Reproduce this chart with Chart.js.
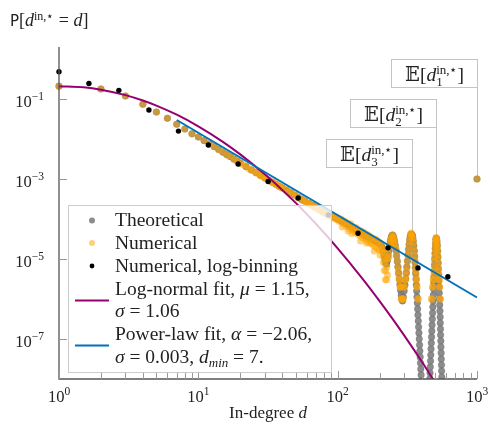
<!DOCTYPE html>
<html>
<head>
<meta charset="utf-8">
<script src="https://cdn.jsdelivr.net/npm/chart.js@4.4.1/dist/chart.umd.min.js"></script>
<style>
  html, body { margin: 0; padding: 0; background: #fff; }
</style>
</head>
<body>
<canvas id="chart" width="490" height="426"></canvas>
<script>
// [in-degree d, log10 P]
const theoretical = [
  [1,-0.678],[2,-0.75],[3,-0.925],[4,-1.13],[5,-1.325],[6,-1.48],[7,-1.63],[8,-1.75],[9,-1.87],[10,-1.95],
  [11,-2.04],[12,-2.12],[13,-2.19],[14,-2.26],[15,-2.33],[16,-2.39],[17,-2.44],[18,-2.50],[19,-2.55],[20,-2.60],
  [22,-2.69],[24,-2.77],[26,-2.84],[28,-2.91],[30,-2.97],[32,-3.03],[34,-3.08],[36,-3.13],[38,-3.18],[40,-3.22],
  [43,-3.28],[46,-3.34],[49,-3.40],[52,-3.46],[55,-3.51],[58,-3.55],[62,-3.61],[66,-3.66],[70,-3.71],[74,-3.76],
  [78,-3.81],[83,-3.86],[88,-3.91],[94,-3.96],[100,-4.00],[105,-4.04],[110,-4.08],[115,-4.12],[120,-4.16],[125,-4.20],
  [130,-4.24],[135,-4.27],[140,-4.31],[145,-4.34],[150,-4.37],[155,-4.40],[160,-4.43],[165,-4.46],[170,-4.48],[175,-4.51],
  [180,-4.53],[185,-4.55],[190,-4.57],[195,-4.59],[200,-4.61],[204,-4.64],[208,-4.70],[212,-4.80],[215,-4.90],[218,-5.00],
  [221,-5.10],[224,-5.13],[227,-5.05],[230,-4.92],[233,-4.80],[236,-4.66],[239,-4.55],[242,-4.47],[245,-4.42],[247,-4.40],
  [250,-4.42],[253,-4.48],[256,-4.56],[259,-4.66],[262,-4.78],[265,-4.92],[268,-5.06],[271,-5.20],[274,-5.35],[277,-5.50],
  [280,-5.64],[283,-5.78],[286,-5.90],[289,-6.00],[292,-6.05],[296,-5.95],[300,-5.80],[304,-5.65],[308,-5.50],[311,-5.35],
  [314,-5.20],[317,-5.05],[320,-4.90],[323,-4.76],[326,-4.63],[329,-4.52],[332,-4.44],[335,-4.39],[338,-4.38],[341,-4.39],
  [343,-4.41],[346,-4.46],[349,-4.55],[352,-4.67],[355,-4.80],[357,-4.94],[359,-5.08],[361,-5.22],[363,-5.36],[365,-5.50],
  [367,-5.65],[369,-5.80],[371,-5.95],[373,-6.10],[375,-6.25],[377,-6.40],[379,-6.55],[381,-6.70],[383,-6.85],[385,-7.00],
  [387,-7.15],[389,-7.30],[391,-7.45],[393,-7.60],[395,-7.75],[397,-7.90],[399,-8.05],[401,-8.20],
  [456,-8.15],[458,-8.00],[460,-7.85],[462,-7.70],[464,-7.55],[466,-7.40],[468,-7.25],[470,-7.10],[472,-6.95],[474,-6.80],
  [476,-6.65],[478,-6.50],[480,-6.35],[482,-6.20],[484,-6.05],[486,-5.90],[488,-5.75],[490,-5.60],[492,-5.45],[494,-5.30],
  [496,-5.15],[498,-5.00],[500,-4.86],[502,-4.73],[504,-4.62],[507,-4.52],[510,-4.48],[513,-4.50],[516,-4.56],[519,-4.66],
  [522,-4.80],[524,-4.95],[526,-5.10],[528,-5.25],[530,-5.40],[532,-5.55],[534,-5.70],[536,-5.85],[538,-6.00],[540,-6.15],
  [542,-6.30],[544,-6.45],[545,-6.60],[547,-6.75],[548,-6.90],[550,-7.05],[551,-7.20],[553,-7.35],[554,-7.50],[556,-7.65],
  [557,-7.80],[559,-7.95],[560,-8.10],
  [1000,-3.00]
];

const numerical = [
  [1,-0.678],[2,-0.75],[3,-0.925],[4,-1.13],[5,-1.325],[6,-1.48],[7,-1.63],[8,-1.75],[9,-1.87],[10,-1.95],
  [11,-2.03],[12,-2.13],[13,-2.18],[14,-2.27],[15,-2.32],[16,-2.40],[17,-2.43],[18,-2.51],[19,-2.54],[20,-2.61],
  [21,-2.64],[22,-2.68],[23,-2.74],[24,-2.78],[25,-2.80],[26,-2.85],[27,-2.87],[28,-2.92],[29,-2.93],[30,-2.98],
  [31,-3.00],[32,-3.04],[33,-3.05],[34,-3.09],[35,-3.10],[36,-3.14],[37,-3.15],[38,-3.19],[39,-3.20],[40,-3.23],
  [42,-3.25],[44,-3.31],[46,-3.33],[48,-3.39],[50,-3.41],[52,-3.47],[54,-3.48],[56,-3.54],[58,-3.54],[60,-3.60],
  [62,-3.60],[64,-3.66],[66,-3.65],[68,-3.71],[70,-3.70],[72,-3.77],[74,-3.75],[76,-3.81],[78,-3.79],[80,-3.86],
  [83,-3.84],[86,-3.92],[89,-3.89],[92,-3.97],[95,-3.93],[98,-4.02],[100,-3.97],[103,-4.06],[106,-4.00],[108,-4.20],
  [109,-4.12],[112,-4.05],[115,-4.18],[118,-4.10],[119,-4.30],[121,-4.24],[124,-4.12],[126,-4.36],[127,-4.28],[130,-4.20],
  [133,-4.33],[136,-4.22],[139,-4.38],[142,-4.28],[145,-4.42],[146,-4.55],[148,-4.30],[151,-4.47],[154,-4.33],[157,-4.50],
  [160,-4.38],[161,-4.60],[163,-4.55],[166,-4.40],[169,-4.60],[172,-4.45],[175,-4.62],[178,-4.48],[181,-4.66],[183,-4.80],
  [184,-4.50],[187,-4.70],[190,-4.52],[193,-4.74],[196,-4.56],[199,-4.78],[201,-4.90],[202,-4.60],[205,-4.65],[208,-4.80],
  [211,-4.75],[213,-5.08],[214,-4.95],[216,-5.28],[217,-4.85],[219,-5.10],[220,-5.52],[221,-5.30],[223,-5.00],[225,-5.52],
  [226,-5.20],[228,-5.40],[229,-5.00],[231,-4.85],[233,-4.95],[235,-4.70],[237,-4.60],[239,-4.65],[241,-4.50],[243,-4.52],
  [245,-4.42],[247,-4.47],[249,-4.40],[251,-4.46],[253,-4.52],[255,-4.55],[257,-4.62],[259,-4.68],[262,-4.75],[265,-4.90],
  [268,-5.05],[270,-5.20],[272,-5.30],[274,-5.40],[276,-5.52],[278,-5.52],[280,-5.70],[282,-5.70],[284,-5.70],[286,-6.00],
  [288,-6.00],[290,-6.00],[293,-6.00],[296,-6.00],[299,-5.70],[302,-5.70],[305,-5.52],[307,-5.52],[309,-5.40],[311,-5.30],
  [313,-5.20],[316,-5.05],[319,-4.90],[322,-4.78],[325,-4.65],[328,-4.55],[331,-4.45],[334,-4.38],[337,-4.35],[340,-4.38],
  [343,-4.42],[346,-4.48],[349,-4.56],[352,-4.68],[355,-4.80],[357,-4.92],[359,-5.05],[361,-5.20],[363,-5.30],[365,-5.40],
  [366,-5.52],[368,-5.52],[370,-5.70],[372,-5.70],[376,-6.00],[380,-6.00],
  [470,-6.00],[474,-6.00],[478,-5.70],[481,-5.70],[484,-5.52],[487,-5.52],[489,-5.40],[491,-5.30],[493,-5.20],[495,-5.05],
  [497,-4.95],[499,-4.85],[501,-4.75],[503,-4.65],[505,-4.55],[507,-4.50],[509,-4.46],[511,-4.48],[513,-4.52],[515,-4.58],
  [517,-4.65],[519,-4.72],[521,-4.80],[523,-4.90],[525,-5.00],[527,-5.10],[529,-5.20],[531,-5.30],[532,-5.40],[534,-5.52],
  [536,-5.52],[538,-5.70],[540,-5.70],[544,-6.00],[548,-6.00],
  [1000,-3.00]
];

// [d, P]
const logBinning = [
  [1,0.48],[1.64,0.245],[2.69,0.165],[4.42,0.053],[7.2,0.0158],[11.8,0.0071],[19.3,0.00237],
  [31.7,8.7e-4],[52.1,3.35e-4],[85.7,1.26e-4],[140,4.4e-5],[230,1.9e-5],[377,6.0e-6],[618,3.6e-6]
];
const logNormalFit = [
  [1,0.209],[1.5,0.196],[2,0.1715],[3,0.1253],[4,0.0918],[5,0.0685],[7,0.0406],[10,0.02085],[15,0.00852],
  [20,0.00413],[30,0.001315],[40,5.34e-4],[50,2.53e-4],[70,7.5e-5],[100,1.855e-5],[150,3.3e-6],[200,8.88e-7],
  [250,3.05e-7],[300,1.23e-7],[400,2.78e-8],[500,8.3e-9]
];
const powerLawFit = [[7,0.0299],[1000,1.09e-6]];

const xTicks = [1, 10, 100, 1000];
const xTickExp = ['0', '1', '2', '3'];
const xMinorTicks = [2,3,4,5,6,7,8,9,20,30,40,50,60,70,80,90,200,300,400,500,600,700,800,900];
const yTicks = [1e-1, 1e-3, 1e-5, 1e-7];
const yTickExp = ['\u22121', '\u22123', '\u22125', '\u22127'];

// expected in-degree of the three hubs and the value the marker line points to
const hubIndex = ['1', '2', '3'];
const hubDeg = [1000, 507, 341];
const hubProb = [1e-3, 3.3e-5, 4.2e-5];
const hubBoxTop = [59, 99, 139];

const SERIF = '"Liberation Serif", "DejaVu Serif", serif';
const rm = s => s + 'px ' + SERIF;
const it = s => 'italic ' + s + 'px ' + SERIF;
const ROMAN = 19.5, SMALL = 13;

const PURPLE = 'rgb(150,0,110)';
const BLUE = 'rgb(0,114,189)';
const GRAY = 'rgba(128,128,128,0.9)';
const ORANGE = 'rgba(255,165,0,0.52)';

const toXY = (pts, isLog) => pts.map(p => ({ x: p[0], y: isLog ? Math.pow(10, p[1]) : p[1] }));

function drawRuns(ctx, parts, x, y, align) {
  let total = 0;
  parts.forEach(p => {
    ctx.font = p.f;
    p.w = ctx.measureText(p.t).width;
    if (!p.stack) total += p.w;
  });
  let cx = x;
  if (align === 'center') cx = x - total / 2;
  if (align === 'right') cx = x - total;
  ctx.textAlign = 'left';
  ctx.textBaseline = 'alphabetic';
  parts.forEach(p => {
    ctx.font = p.f;
    ctx.fillText(p.t, cx, y + (p.dy || 0));
    if (!p.stack) cx += p.w;
  });
}

const legendRows = [
  { marker: 'dot', color: GRAY, r: 3, parts: [{ t: 'Theoretical', f: rm(ROMAN) }], y: 226 },
  { marker: 'dot', color: ORANGE, r: 3, parts: [{ t: 'Numerical', f: rm(ROMAN) }], y: 248.5 },
  { marker: 'dot', color: '#000', r: 2.4, parts: [{ t: 'Numerical, log-binning', f: rm(ROMAN) }], y: 271.5 },
  { parts: [{ t: 'Log-normal fit, ', f: rm(ROMAN) }, { t: '\u03bc', f: it(ROMAN) }, { t: ' = 1.15,', f: rm(ROMAN) }], y: 294.5 },
  { parts: [{ t: '\u03c3', f: it(ROMAN) }, { t: ' = 1.06', f: rm(ROMAN) }], y: 317 },
  { parts: [{ t: 'Power-law fit, ', f: rm(ROMAN) }, { t: '\u03b1', f: it(ROMAN) }, { t: ' = \u22122.06,', f: rm(ROMAN) }], y: 340 },
  { parts: [{ t: '\u03c3', f: it(ROMAN) }, { t: ' = 0.003, ', f: rm(ROMAN) }, { t: 'd', f: it(ROMAN) },
            { t: 'min', f: it(SMALL), dy: 4 }, { t: ' = 7.', f: rm(ROMAN) }], y: 362.5 }
];
const legendLines = [{ color: PURPLE, y: 300.5 }, { color: BLUE, y: 345.5 }];

const deco = {
  id: 'deco',
  beforeDatasetsDraw(chart) {
    const { ctx, scales: { x, y } } = chart;
    ctx.save();
    ctx.strokeStyle = '#c4c4c4';
    ctx.lineWidth = 1;
    hubDeg.forEach((d, i) => {
      const px = Math.round(x.getPixelForValue(d)) + 0.5;
      ctx.beginPath();
      ctx.moveTo(px, hubBoxTop[i] + 28);
      ctx.lineTo(px, y.getPixelForValue(hubProb[i]));
      ctx.stroke();
    });
    ctx.restore();
  },
  afterDatasetsDraw(chart) {
    const { ctx, chartArea: a, scales: { x, y } } = chart;
    ctx.save();

    // axes
    ctx.strokeStyle = '#555';
    ctx.lineWidth = 1.3;
    ctx.beginPath();
    ctx.moveTo(a.left, a.top);
    ctx.lineTo(a.left, a.bottom);
    ctx.lineTo(a.right, a.bottom);
    ctx.stroke();

    ctx.strokeStyle = '#999';
    ctx.lineWidth = 1;
    ctx.beginPath();
    xTicks.forEach(v => {
      const px = Math.round(x.getPixelForValue(v)) + 0.5;
      ctx.moveTo(px, a.bottom); ctx.lineTo(px, a.bottom - 8);
    });
    xMinorTicks.forEach(v => {
      const px = Math.round(x.getPixelForValue(v)) + 0.5;
      ctx.moveTo(px, a.bottom); ctx.lineTo(px, a.bottom - 6);
    });
    yTicks.forEach(v => {
      const py = Math.round(y.getPixelForValue(v)) + 0.5;
      ctx.moveTo(a.left, py); ctx.lineTo(a.left + 8, py);
    });
    ctx.stroke();

    ctx.fillStyle = '#222';
    xTicks.forEach((v, i) => {
      drawRuns(ctx, [{ t: '10', f: rm(16.5) }, { t: xTickExp[i], f: rm(11.5), dy: -7 }],
        x.getPixelForValue(v), a.bottom + 23, 'center');
    });
    yTicks.forEach((v, i) => {
      drawRuns(ctx, [{ t: '10', f: rm(16.5) }, { t: yTickExp[i], f: rm(11.5), dy: -7 }],
        a.left - 15, y.getPixelForValue(v) + 8, 'right');
    });

    // title and axis label
    drawRuns(ctx, [
      { t: 'P', f: '15px "DejaVu Sans", sans-serif' }, { t: '[', f: rm(18) }, { t: 'd', f: it(18) },
      { t: 'in,\u22c6', f: rm(12), dy: -6 }, { t: ' = ', f: rm(18) }, { t: 'd', f: it(18) }, { t: ']', f: rm(18) }
    ], 10, 26, 'left');
    drawRuns(ctx, [{ t: 'In-degree ', f: rm(17) }, { t: 'd', f: it(17) }], (a.left + a.right) / 2, 418, 'center');

    // hub boxes
    hubDeg.forEach((d, i) => {
      const right = Math.round(x.getPixelForValue(d)) + 0.5;
      const top = hubBoxTop[i] + 0.5;
      ctx.fillStyle = '#fff';
      ctx.fillRect(right - 86, top, 86, 28);
      ctx.strokeStyle = '#c4c4c4';
      ctx.strokeRect(right - 86, top, 86, 28);
      ctx.fillStyle = '#222';
      drawRuns(ctx, [
        { t: '\u{1D53C}', f: rm(ROMAN) }, { t: '[', f: rm(ROMAN) }, { t: 'd', f: it(ROMAN) },
        { t: hubIndex[i], f: rm(SMALL), dy: 5, stack: true }, { t: 'in,\u22c6', f: rm(SMALL), dy: -7 },
        { t: ']', f: rm(ROMAN) }
      ], right - 43, top + 21, 'center');
    });

    // legend
    ctx.fillStyle = 'rgba(255,255,255,0.78)';
    ctx.fillRect(68, 205, 263, 167);
    ctx.strokeStyle = '#cccccc';
    ctx.lineWidth = 1;
    ctx.strokeRect(68.5, 205.5, 263, 167);
    legendRows.forEach(row => {
      if (row.marker) {
        ctx.fillStyle = row.color;
        ctx.beginPath();
        ctx.arc(92, row.y - 5.5, row.r, 0, Math.PI * 2);
        ctx.fill();
      }
      ctx.fillStyle = '#222';
      drawRuns(ctx, row.parts, 115, row.y, 'left');
    });
    ctx.lineWidth = 2;
    legendLines.forEach(l => {
      ctx.strokeStyle = l.color;
      ctx.beginPath();
      ctx.moveTo(75, l.y); ctx.lineTo(109, l.y);
      ctx.stroke();
    });
    ctx.restore();
  }
};

const clipBox = { left: 8, top: 8, right: 8, bottom: 0 };

new Chart(document.getElementById('chart'), {
  type: 'scatter',
  data: {
    datasets: [
      { label: 'Numerical, log-binning', data: toXY(logBinning, false), pointRadius: 2.7,
        backgroundColor: '#000', borderWidth: 0, order: 0, clip: clipBox },
      { label: 'Power-law fit', data: toXY(powerLawFit, false), showLine: true, pointRadius: 0,
        borderColor: BLUE, borderWidth: 2, order: 1, clip: clipBox },
      { label: 'Log-normal fit', data: toXY(logNormalFit, false), showLine: true, pointRadius: 0,
        borderColor: PURPLE, borderWidth: 2, cubicInterpolationMode: 'monotone', order: 2, clip: clipBox },
      { label: 'Numerical', data: toXY(numerical, true), pointRadius: 3.5,
        backgroundColor: ORANGE, borderWidth: 0, order: 3, clip: clipBox },
      { label: 'Theoretical', data: toXY(theoretical, true), pointRadius: 3.3,
        backgroundColor: GRAY, borderColor: 'rgba(90,90,90,0.6)', borderWidth: 0.5, order: 4, clip: clipBox }
    ]
  },
  options: {
    responsive: false,
    animation: false,
    devicePixelRatio: 1,
    layout: { padding: { left: 59, right: 13, top: 47, bottom: 47 } },
    plugins: { legend: { display: false }, tooltip: { enabled: false } },
    scales: {
      x: { type: 'logarithmic', min: 1, max: 1000, display: false },
      y: { type: 'logarithmic', min: 1e-8, max: 2, display: false }
    }
  },
  plugins: [deco]
});
</script>
</body>
</html>
